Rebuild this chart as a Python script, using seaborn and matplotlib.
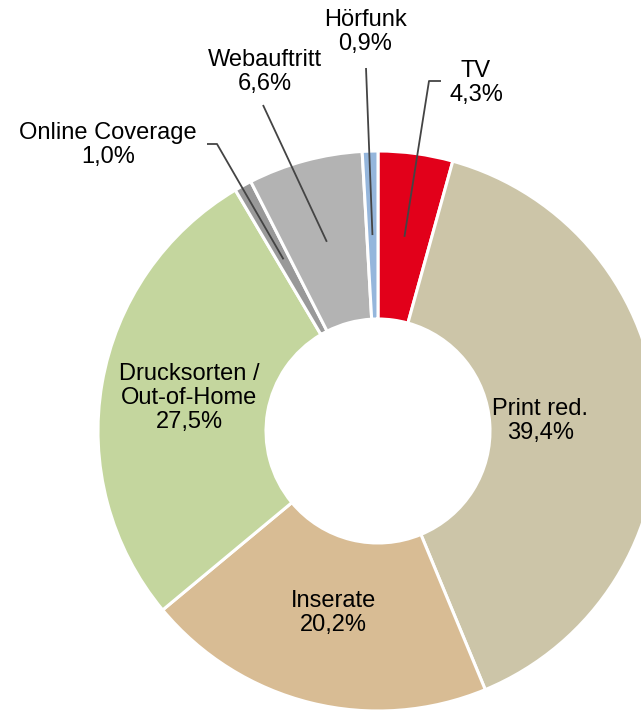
import numpy as np
import matplotlib
matplotlib.use("Agg")
import matplotlib.pyplot as plt
import seaborn as sns

# data (clockwise from 12 o'clock)
categories = ["TV", "Print red.", "Inserate", "Drucksorten /\nOut-of-Home",
              "Online Coverage", "Webauftritt", "Hörfunk"]
shares = [4.3, 39.4, 20.2, 27.5, 1.0, 6.6, 0.9]
colors = ["#E2001A", "#CCC5A8", "#D8BC94", "#C4D69E", "#999999", "#B3B3B3", "#95B6DC"]

# which labels sit inside the ring and at what radius
inside = [False, True, True, True, False, False, False]
inside_r = [None, 0.58, 0.67, 0.685, None, None, None]

# outside label positions (pixels in the 641x710 picture) and elbow starts
out_text_px = {"TV": (476, 83), "Online Coverage": (108, 145),
               "Webauftritt": (265, 72), "Hörfunk": (365, 32)}
out_line_px = {"TV": [(441, 81), (429, 81)],
               "Online Coverage": [(207, 144), (217, 144)],
               "Webauftritt": [(263, 105)],
               "Hörfunk": [(366, 68)]}

W, H = 641, 710
CX, CY, R = 378, 431, 280

sns.set_theme(style="white")
plt.rcParams["font.family"] = ["Liberation Sans", "DejaVu Sans"]

fig = plt.figure(figsize=(W / 100, H / 100), dpi=100)
ax = fig.add_axes([(CX - R) / W, (H - CY - R) / H, 2 * R / W, 2 * R / H])


def px2data(p):
    return ((p[0] - CX) / R, (CY - p[1]) / R)


wedges, _ = ax.pie(shares, colors=colors, startangle=90, counterclock=False,
                   radius=1.0,
                   wedgeprops=dict(width=0.6, edgecolor="white", linewidth=2.2))
for w in wedges:
    w.set_clip_on(False)

fs = 17
for i, (cat, val, w) in enumerate(zip(categories, shares, wedges)):
    label = cat + "\n" + f"{val:.1f}".replace(".", ",") + "%"
    mid = np.deg2rad((w.theta1 + w.theta2) / 2)
    if inside[i]:
        r = inside_r[i]
        ax.text(r * np.cos(mid), r * np.sin(mid), label, ha="center", va="center",
                fontsize=fs, color="black", linespacing=1.12)
    else:
        tx, ty = px2data(out_text_px[cat])
        ax.text(tx, ty, label, ha="center", va="center", fontsize=fs,
                color="black", linespacing=1.12, clip_on=False)
        # leader line: elbow points, then into the middle of the ring
        pts = [px2data(p) for p in out_line_px[cat]]
        pts.append((0.7 * np.cos(mid), 0.7 * np.sin(mid)))
        xs, ys = zip(*pts)
        ax.plot(xs, ys, color="#444444", linewidth=1.3, clip_on=False,
                solid_capstyle="butt")

ax.set_xlim(-1, 1)
ax.set_ylim(-1, 1)
ax.axis("off")

fig.savefig("out.png", dpi=100)
